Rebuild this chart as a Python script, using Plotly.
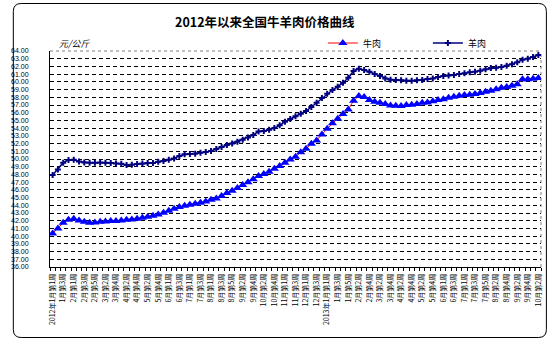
import plotly.graph_objects as go

# Weekly national average prices (元/公斤), 2012年1月第1周 – 2013年10月第2周
beef_price = [
    40.35, 41.00, 41.73, 42.12, 42.25, 42.04, 41.86, 41.73, 41.78, 41.86,
    41.91, 41.95, 41.95, 42.04, 42.12, 42.17, 42.25, 42.38, 42.51, 42.64,
    42.82, 43.03, 43.29, 43.55, 43.77, 43.94, 44.07, 44.20, 44.33, 44.50,
    44.72, 44.89, 45.19, 45.58, 45.88, 46.23, 46.62, 46.97, 47.36, 47.79,
    48.05, 48.35, 48.74, 49.08, 49.52, 49.95, 50.29, 50.86, 51.33, 51.98,
    52.41, 53.19, 53.93, 54.62, 55.22, 55.83, 56.43, 57.56, 58.16, 58.03,
    57.64, 57.43, 57.30, 57.13, 56.95, 56.91, 56.87, 57.00, 57.04, 57.13,
    57.30, 57.34, 57.47, 57.64, 57.73, 57.95, 58.08, 58.21, 58.29, 58.34,
    58.42, 58.55, 58.73, 58.86, 59.03, 59.24, 59.33, 59.50, 59.68, 60.33,
    60.33, 60.41, 60.50,
]

mutton_price = [
    47.92, 48.65, 49.52, 49.86, 49.91, 49.69, 49.56, 49.52, 49.52, 49.56,
    49.52, 49.47, 49.43, 49.39, 49.21, 49.26, 49.34, 49.43, 49.47, 49.47,
    49.65, 49.73, 49.91, 50.08, 50.38, 50.60, 50.64, 50.68, 50.81, 50.90,
    51.03, 51.29, 51.55, 51.81, 52.02, 52.24, 52.50, 52.80, 53.11, 53.58,
    53.62, 53.80, 54.01, 54.36, 54.83, 55.18, 55.53, 55.87, 56.22, 56.74,
    57.30, 57.90, 58.47, 58.94, 59.37, 59.89, 60.54, 61.41, 61.71, 61.54,
    61.32, 61.02, 60.76, 60.45, 60.28, 60.24, 60.20, 60.15, 60.15, 60.20,
    60.24, 60.37, 60.45, 60.63, 60.76, 60.84, 60.89, 61.02, 61.10, 61.23,
    61.32, 61.45, 61.62, 61.80, 61.84, 61.92, 62.10, 62.27, 62.53, 62.88,
    63.01, 63.22, 63.48,
]

# Axis labels, one for every second week
week_labels = [
    "2012年1月第1周", "1月第3周", "2月第1周", "2月第3周", "2月第5周",
    "3月第2周", "3月第4周", "4月第2周", "4月第4周", "5月第2周", "5月第4周",
    "6月第1周", "6月第3周", "7月第1周", "7月第3周", "8月第1周", "8月第3周",
    "8月第5周", "9月第2周", "9月第4周", "10月第2周", "10月第4周",
    "11月第1周", "11月第3周", "12月第1周", "12月第3周",
    "2013年1月第1周", "1月第3周", "1月第5周", "2月第2周", "2月第4周",
    "3月第2周", "3月第4周", "4月第2周", "4月第4周", "5月第2周", "5月第4周",
    "6月第1周", "6月第3周", "7月第1周", "7月第3周", "7月第5周",
    "8月第2周", "8月第4周", "9月第2周", "9月第4周", "10月第2周",
]

y_ticks = list(range(36, 65))

W, H = 554, 342
ML, MR, MT, MB = 41, 11, 51, 75
PW, PH = W - ML - MR, H - MT - MB


def fx(px):
    return (px - ML) / PW


def fy(py):
    return (H - MB - py) / PH


def rounded_frame(x0, y0, x1, y1, r):
    pts = [
        ("M", (x0 + r, y0)), ("L", (x1 - r, y0)),
        ("Q", (x1, y0), (x1, y0 + r)), ("L", (x1, y1 - r)),
        ("Q", (x1, y1), (x1 - r, y1)), ("L", (x0 + r, y1)),
        ("Q", (x0, y1), (x0, y1 - r)), ("L", (x0, y0 + r)),
        ("Q", (x0, y0), (x0 + r, y0)),
    ]
    out = []
    for cmd, *coords in pts:
        out.append(cmd + " " + " ".join(f"{fx(a):.5f},{fy(b):.5f}" for a, b in coords))
    return " ".join(out) + " Z"


weeks = list(range(len(beef_price)))
CJK = "Noto Sans CJK SC, sans-serif"

fig = go.Figure()
fig.add_trace(go.Scatter(
    x=weeks, y=beef_price, name="牛肉", mode="lines+markers",
    line=dict(color="#FF0000", width=1),
    marker=dict(symbol="triangle-up", size=8, color="#0000FF",
                line=dict(color="#0000FF", width=0)),
))
fig.add_trace(go.Scatter(
    x=weeks, y=mutton_price, name="羊肉", mode="lines+markers",
    line=dict(color="#000080", width=1.5),
    marker=dict(symbol="cross", size=5, color="#000080",
                line=dict(color="#000080", width=0)),
))

fig.update_layout(
    width=W, height=H,
    margin=dict(l=ML, r=MR, t=MT, b=MB, pad=0),
    paper_bgcolor="white", plot_bgcolor="white",
    font=dict(family=CJK, size=8, color="black"),
    showlegend=True,
    legend=dict(
        orientation="h", x=fx(320), y=fy(43), xanchor="left", yanchor="middle",
        font=dict(family=CJK, size=9, color="black"),
        bgcolor="rgba(0,0,0,0)", entrywidth=60, itemwidth=30,
    ),
    xaxis=dict(
        range=[-0.5, len(weeks) - 0.5],
        tickmode="array", tickvals=weeks[::2], ticktext=week_labels,
        tickangle=-90, ticks="", ticklabelstandoff=3,
        tickfont=dict(family=CJK, size=7, color="black"),
        showgrid=False, zeroline=False,
        showline=True, linecolor="black", linewidth=1,
        minor=dict(tickmode="linear", tick0=-0.5, dtick=1,
                   ticks="outside", ticklen=3, tickcolor="black",
                   tickwidth=1, showgrid=False),
    ),
    yaxis=dict(
        range=[36, 64],
        tickmode="array", tickvals=y_ticks,
        ticktext=[f"{v:.2f}" for v in y_ticks],
        ticks="outside", ticklen=19, tickcolor="rgba(0,0,0,0)",
        tickfont=dict(family="Liberation Sans", size=7, color="black"),
        showgrid=True, gridcolor="black", gridwidth=1, griddash="4px,3px",
        zeroline=False,
        showline=True, linecolor="black", linewidth=1,
    ),
    shapes=[
        # hide the gridline under the top edge, then draw the dotted frame
        dict(type="line", xref="paper", yref="paper", x0=0, x1=1, y0=1, y1=1,
             line=dict(color="white", width=2), layer="between"),
        dict(type="line", xref="paper", yref="paper", x0=0, x1=1, y0=1, y1=1,
             line=dict(color="#808080", width=1, dash="dot"), layer="between"),
        dict(type="line", xref="paper", yref="paper", x0=1, x1=1, y0=0, y1=1,
             line=dict(color="#808080", width=1, dash="dot"), layer="between"),
        # outer chart frame
        dict(type="path", xref="paper", yref="paper",
             path=rounded_frame(3.5, 3.5, 548.5, 337.5, 8),
             line=dict(color="black", width=1), layer="above"),
    ],
    annotations=[
        dict(text="<b>2012年以来全国牛羊肉价格曲线</b>", xref="paper", yref="paper",
             x=fx(261), y=fy(22), xanchor="center", yanchor="middle",
             showarrow=False, font=dict(family=CJK, size=12.5, color="black")),
        dict(text="<i>元/公斤</i>", xref="paper", yref="paper",
             x=fx(48), y=fy(43), xanchor="left", yanchor="middle",
             showarrow=False, font=dict(family=CJK, size=9, color="black")),
    ],
)

fig.write_html("out.html")
